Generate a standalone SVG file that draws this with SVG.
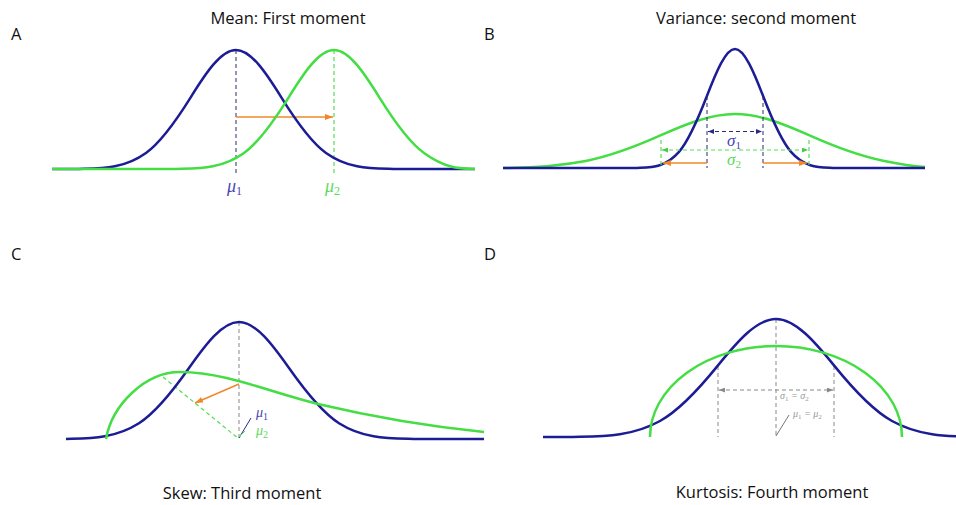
<svg xmlns="http://www.w3.org/2000/svg" width="956" height="505" viewBox="0 0 956 505">
<defs>
<style>
.title{font-family:"Open Sans","Liberation Sans",sans-serif;font-size:16.5px;fill:#111;text-anchor:middle}
.letter{font-family:"Open Sans","Liberation Sans",sans-serif;font-size:16.5px;fill:#111}
.blue{fill:none;stroke:#1c1c96;stroke-width:2.5}
.green{fill:none;stroke:#44dd44;stroke-width:2.5}
.orange{fill:none;stroke:#f0882a;stroke-width:1.6}
.dblue{fill:none;stroke:#2a2a70;stroke-width:1;stroke-dasharray:4 3}
.dgreen{fill:none;stroke:#55dd55;stroke-width:1.2;stroke-dasharray:4 3}
.dgray{fill:none;stroke:#888;stroke-width:1;stroke-dasharray:4 3}
.math{font-family:"Liberation Serif","DejaVu Serif",serif;font-style:italic}
</style>
<marker id="ao" viewBox="0 0 8 6" refX="8" refY="3" markerWidth="8" markerHeight="6" markerUnits="userSpaceOnUse" orient="auto-start-reverse"><path d="M0,0 L8,3 L0,6 z" fill="#f0882a"/></marker>
<marker id="ab" viewBox="0 0 6 5" refX="6" refY="2.5" markerWidth="6" markerHeight="5" markerUnits="userSpaceOnUse" orient="auto-start-reverse"><path d="M0,0 L6,2.5 L0,5 z" fill="#2a2a8a"/></marker>
<marker id="ag" viewBox="0 0 6 5" refX="6" refY="2.5" markerWidth="6" markerHeight="5" markerUnits="userSpaceOnUse" orient="auto-start-reverse"><path d="M0,0 L6,2.5 L0,5 z" fill="#44cc44"/></marker>
<marker id="ay" viewBox="0 0 6 5" refX="6" refY="2.5" markerWidth="6" markerHeight="5" markerUnits="userSpaceOnUse" orient="auto-start-reverse"><path d="M0,0 L6,2.5 L0,5 z" fill="#888"/></marker>
</defs>
<rect width="956" height="505" fill="#fff"/>

<g id="panelA">
<text class="letter" x="11" y="40">A</text>
<text class="title" x="288" y="24">Mean: First moment</text>
<g id="A-connectors">
<line class="dblue" x1="236" y1="50" x2="236" y2="176"/>
<line class="dgreen" x1="334" y1="50" x2="334" y2="176"/>
<line class="orange" x1="236" y1="117" x2="333" y2="117" marker-end="url(#ao)"/>
</g>
<path id="A-blue" class="blue" d="M52 169 L78.5 169 C101 168.3 123.5 169 146 152.9 C161 142.2 176 120.9 191 96.8 C206 72.8 221 50 236 50 C251 50 266 72.8 281 96.8 C296 120.9 311 142.2 326 152.9 C348.5 169 371 168.3 393.5 169 L475 169"/>
<path id="A-green" class="green" d="M52 169 L176.5 169 C199 168.3 221.5 169 244 152.9 C259 142.2 274 120.9 289 96.8 C304 72.8 319 50 334 50 C349 50 364 72.8 379 96.8 C394 120.9 409 142.2 424 152.9 C446.5 169 460 168.5 475 169"/>
<text class="math" x="227" y="192" font-size="18" fill="#4646b4">μ<tspan font-style="normal" font-size="12" dy="3">1</tspan></text>
<text class="math" x="325" y="192" font-size="18" fill="#5ed85e">μ<tspan font-style="normal" font-size="12" dy="3">2</tspan></text>
</g>

<g id="panelB">
<text class="letter" x="484" y="40">B</text>
<text class="title" x="756" y="24">Variance: second moment</text>
<path id="B-green" class="green" d="M503 168 C531 167.8 559 166.2 587 160.7 C611.6 155.8 636.4 146.2 661 135.2 C685.6 124.3 710.4 114 735 114 C759.6 114 784.4 124.3 809 135.2 C833.6 146.2 858.4 155.8 883 160.7 C897 163.5 911 166 925 167"/>
<path id="B-blue" class="blue" d="M503 168 L637 168 C651 167.3 665 168 679 151.9 C688.3 141.2 697.7 119.9 707 95.8 C716.3 71.8 725.7 49 735 49 C744.3 49 753.7 71.8 763 95.8 C772.3 119.9 781.7 141.2 791 151.9 C805 168 819 167.3 833 168 L925 168"/>
<g id="B-connectors">
<line class="dblue" x1="707" y1="96" x2="707" y2="168"/>
<line class="dblue" x1="763" y1="96" x2="763" y2="168"/>
<line class="dgreen" x1="661" y1="140" x2="661" y2="168"/>
<line class="dgreen" x1="809" y1="140" x2="809" y2="168"/>
<line class="dblue" x1="708" y1="131.5" x2="762" y2="131.5" marker-start="url(#ab)" marker-end="url(#ab)"/>
<line class="dgreen" x1="662" y1="150" x2="808" y2="150" marker-start="url(#ag)" marker-end="url(#ag)"/>
<line class="orange" x1="707" y1="163" x2="663" y2="163" marker-end="url(#ao)"/>
<line class="orange" x1="763" y1="163" x2="807" y2="163" marker-end="url(#ao)"/>
</g>
<text class="math" x="727" y="146" font-size="17" fill="#4646b4">σ<tspan font-style="normal" font-size="11" dy="3">1</tspan></text>
<text class="math" x="727" y="165" font-size="17" fill="#5ed85e">σ<tspan font-style="normal" font-size="11" dy="3">2</tspan></text>
</g>

<g id="panelC">
<text class="letter" x="11" y="260">C</text>
<text class="title" x="242" y="499">Skew: Third moment</text>
<g id="C-connectors">
<line class="dgray" x1="239" y1="322" x2="239" y2="439" stroke="#556"/>
<line class="dgreen" x1="163" y1="377" x2="239" y2="439"/>
<line class="orange" x1="239" y1="384" x2="195" y2="403" marker-end="url(#ao)"/>
<line x1="239" y1="438" x2="251" y2="418" stroke="#2a2a8a" stroke-width="1"/>
<line x1="238" y1="438" x2="245" y2="431" stroke="#55dd55" stroke-width="1"/>
</g>
<path id="C-blue" class="blue" d="M66 439 C89 438.3 114 439 139 423.2 C155.7 412.6 172.3 391.7 189 368 C205.7 344.4 222.3 322 239 322 C255.7 322 272.3 344.4 289 368 C305.7 391.7 322.3 412.6 339 423.2 C364 439 389 438.3 414 439 L484 439"/>
<path id="C-green" class="green" d="M106 439 C112 405 145 372 180 372 C226 372 272 393 318 404 C373 417 429 426.5 484 432"/>
<text class="math" x="256" y="417" font-size="14" fill="#4646b4">μ<tspan font-style="normal" font-size="10" dy="3">1</tspan></text>
<text class="math" x="256" y="435" font-size="14" fill="#5ed85e">μ<tspan font-style="normal" font-size="10" dy="3">2</tspan></text>
</g>

<g id="panelD">
<text class="letter" x="484" y="260">D</text>
<text class="title" x="772" y="498">Kurtosis: Fourth moment</text>
<g id="D-connectors">
<line class="dgray" x1="776" y1="319" x2="776" y2="437"/>
<line class="dgray" x1="718" y1="366" x2="718" y2="437"/>
<line class="dgray" x1="834" y1="366" x2="834" y2="437"/>
<line class="dgray" x1="719" y1="390" x2="833" y2="390" marker-start="url(#ay)" marker-end="url(#ay)"/>
<line x1="776" y1="436" x2="789" y2="415" stroke="#777" stroke-width="1"/>
</g>
<path id="D-blue" class="blue" d="M543 437 L573 437 C602 436.3 631 437 660 421 C679.3 410.4 698.7 389.3 718 365.4 C737.3 341.6 756.7 319 776 319 C795.3 319 814.7 341.6 834 365.4 C853.3 389.3 872.7 410.4 892 421 C921 437 950 436.3 979 437"/>
<path id="D-green" class="green" d="M650 437 A126 91 0 0 1 902 437"/>
<text class="math" x="780" y="399" font-size="10" fill="#999">σ<tspan font-style="normal" font-size="7" dy="2">1</tspan><tspan dy="-2"> = σ</tspan><tspan font-style="normal" font-size="7" dy="2">2</tspan></text>
<text class="math" x="793" y="417" font-size="10" fill="#999">μ<tspan font-style="normal" font-size="7" dy="2">1</tspan><tspan dy="-2"> = μ</tspan><tspan font-style="normal" font-size="7" dy="2">2</tspan></text>
</g>
</svg>
